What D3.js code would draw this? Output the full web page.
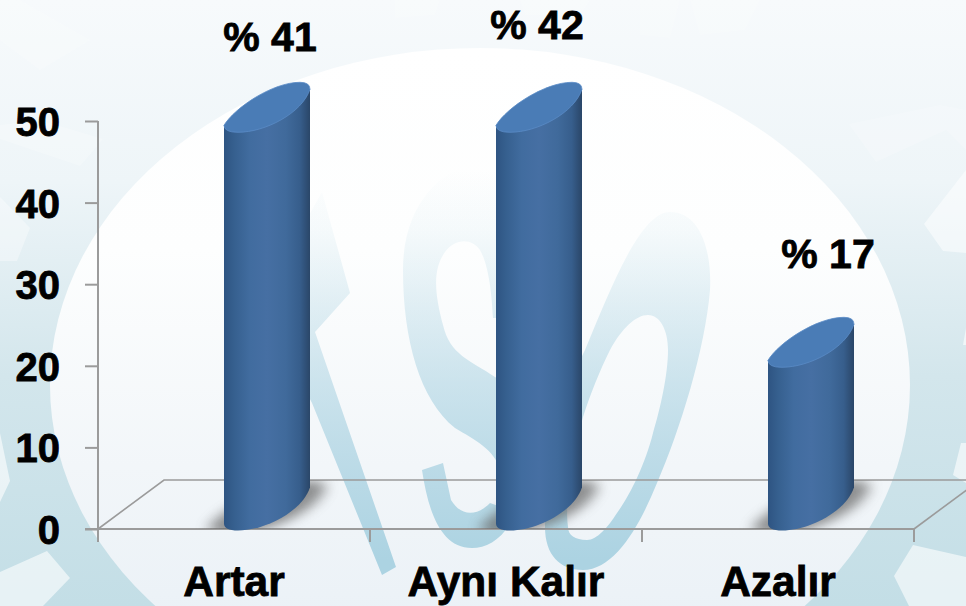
<!DOCTYPE html>
<html><head><meta charset="utf-8">
<style>html,body{margin:0;padding:0;background:#fff;overflow:hidden}svg{display:block}
text{font-family:"Liberation Sans",Arial,sans-serif;font-weight:700;fill:#000;stroke:#000;stroke-width:.8px}</style>
<script src="https://cdn.jsdelivr.net/npm/d3@7/dist/d3.min.js"></script></head><body>
<script>
const categories = ["Artar", "Aynı Kalır", "Azalır"];
const barValues = [48.8, 48.8, 20];
const percentLabels = ["% 41", "% 42", "% 17"];
const yTicks = [0, 10, 20, 30, 40, 50];

const W = 966, H = 606;
const svg = d3.select("body").append("svg").attr("width", W).attr("height", H);
const defs = svg.append("defs");
function grad(id, stops, x2, y2, units) {
  const g = defs.append("linearGradient").attr("id", id).attr("x1", 0).attr("y1", 0).attr("x2", x2).attr("y2", y2);
  if (units) g.attr("gradientUnits", "userSpaceOnUse");
  stops.forEach(s => g.append("stop").attr("offset", s[0]).attr("stop-color", s[1]).attr("stop-opacity", s[2] == null ? 1 : s[2]));
}
grad("bg", [[0, "#f7fafc"], [.3, "#eef5f8"], [.62, "#d3e6ec"], [1, "#c3dee6"]], 0, H, true);
grad("inner", [[0, "#ffffff"], [.3, "#fdfefe"], [.62, "#f2f6f9"], [1, "#e6eef5"]], 0, 1);
grad("logo", [[0, "#acd3e2", 0], [.15, "#acd3e2", .1], [.55, "#acd3e2", .58], [1, "#acd3e2", 1]], 0, 1);
defs.select("#logo").attr("gradientUnits", "userSpaceOnUse").attr("y1", 170).attr("y2", 560).attr("x2", 0);
grad("cyl", [[0, "#2e5482"], [.12, "#36608f"], [.3, "#416c9f"], [.5, "#466fa3"], [.72, "#406a9b"], [.88, "#375e8c"], [1, "#2a4668"]], 1, 0);
const f = defs.append("filter").attr("id", "blur").attr("x", "-30%").attr("y", "-30%").attr("width", "160%").attr("height", "160%");
f.append("feGaussianBlur").attr("stdDeviation", 5);

// background: gear and central disc
svg.append("rect").attr("width", W).attr("height", H).attr("fill", "url(#bg)");
const teeth = [
  ["0,139 80,166 103,139 40,120 0,125", .22], ["0,197 30,228 17,261 0,261", .35], ["0,433 10,481 0,502", .6],
  ["0,572 47,551 70,578 43,606 0,606", .6], ["966,170 924,224 943,251 966,253", .5], ["849,124 876,162 946,130 966,150 966,110 940,105", .2],
  ["966,328 963,345 966,345", .6], ["961,443 953,475 966,483 966,443", .6], ["913,545 894,576 909,606 966,606 966,557", .6],
  ["20,0 90,40 40,70 0,40 0,0", .18], ["690,0 760,0 745,30 700,35", .18], ["395,0 440,0 435,15 395,18", .18], ["520,0 590,0 580,15 525,15", .18], ["640,0 680,0 670,38 640,35", .18]
];
svg.append("g").selectAll("polygon").data(teeth).join("polygon")
  .attr("points", d => d[0]).attr("fill", "#fff").attr("opacity", d => d[1]);
svg.append("ellipse").attr("cx", 480).attr("cy", 385).attr("rx", 430).attr("ry", 337).attr("fill", "url(#inner)");

// KSO logo watermark
const logo = svg.append("g").attr("fill", "url(#logo)").attr("fill-rule", "evenodd");
logo.append("path").attr("d", "M322 192 L350 293 L315 332 L396 567 L382 575 L312 403 L295 370 L295 240 Z");
logo.append("path").attr("d", "M497 155 C440 165 403 205 403 270 C403 340 420 400 455 428 C475 440 495 450 500 470 L510 510 L490 503 C475 518 460 515 451 500 L443 463 L422 470 C428 510 440 548 472 548 C490 548 510 535 520 500 C525 470 520 420 500 380 L495 377 C470 360 450 355 443 325 C435 295 432 270 445 252 C455 238 472 238 480 250 C490 268 492 300 493 318 L510 318 L510 155 Z");
logo.append("path").attr("d", "M670 212 C700 212 712 250 710 290 C705 350 680 430 657 483 C640 525 615 570 583 570 C560 570 545 555 545 527 C545 450 570 380 585 350 C610 290 640 212 670 212 Z M648 315 C660 315 668 330 668 350 C668 375 660 410 653 433 C645 465 630 495 617 513 C608 527 597 540 587 540 C575 540 568 535 568 527 C566 510 568 500 568 487 C572 460 577 440 583 417 C590 395 600 370 610 350 C622 328 636 315 648 315 Z");

// scales and axes
const yScale = d3.scaleLinear().domain([0, 50]).range([529, 121]);
const xScale = d3.scaleBand().domain(categories).range([98, 914]);
const depthX = 66, depthY = 49, barW = 86;

const stroke = "#9b9b9b";
const floor = svg.append("g").attr("fill", "none").attr("stroke", stroke).attr("stroke-width", 1.6);
floor.append("path").attr("d", `M98 529 L${98 + depthX} ${529 - depthY} L${W} ${529 - depthY}`);
floor.append("path").attr("d", `M914 529 L${914 + depthX} ${529 - depthY}`);

const yAxis = svg.append("g").attr("transform", "translate(98,0)")
  .call(d3.axisLeft(yScale).tickValues(yTicks).tickSize(13).tickSizeOuter(0).tickPadding(25));
const xAxis = svg.append("g").attr("transform", "translate(0,529)")
  .call(d3.axisBottom(xScale).tickSize(0).tickPadding(37));
xAxis.selectAll(".tick").append("line").attr("class", "sep")
  .attr("x1", -xScale.step() / 2).attr("x2", -xScale.step() / 2).attr("y2", 13);
xAxis.append("line").attr("x1", 914).attr("x2", 914).attr("y2", 13).attr("stroke", stroke).attr("stroke-width", 2);
xAxis.append("line").attr("x1", 85).attr("x2", 914).attr("stroke", stroke).attr("stroke-width", 2);
svg.selectAll(".domain").attr("stroke", stroke).attr("stroke-width", 2);
svg.selectAll(".tick line").attr("stroke", stroke).attr("stroke-width", 2);
yAxis.select(".domain").attr("d", "M0 121 V529");
yAxis.selectAll("text").attr("font-size", 40).attr("fill", "#000").attr("dy", "0.36em");
xAxis.selectAll("text").attr("font-size", 42.5).attr("fill", "#000").attr("dy", "0.71em");
xAxis.select(".domain").remove();

// cylinders
const lowerEdge = (cx, cy) => `C${cx + 35} ${cy + 7} ${cx - 2} ${cy + 26} ${cx - 29} ${cy + 26} Q${cx - 43} ${cy + 26} ${cx - 43} ${cy + 19}`;
const lens = (cx, cy) => `M${cx - 43} ${cy + 19} C${cx - 32} ${cy + 1} ${cx + 6} ${cy - 24} ${cx + 33} ${cy - 24} Q${cx + 43} ${cy - 24} ${cx + 43} ${cy - 17} ${lowerEdge(cx, cy)} Z`;
const cx = d => xScale(d) + xScale.bandwidth() / 2 + depthX / 2;
const baseCy = yScale(0) - depthY / 2;

defs.append("clipPath").attr("id", "floorClip").append("path").attr("d", `M98 529 L${98 + depthX} ${529 - depthY} H${W} V529 Z`);
const shadowG = svg.append("g").attr("clip-path", "url(#floorClip)");
shadowG.selectAll("path").data(categories).join("path")
  .attr("d", d => lens(cx(d), baseCy))
  .attr("transform", d => `translate(${cx(d)},${baseCy + 2}) scale(1.36,1.08) translate(${-cx(d)},${-baseCy})`)
  .attr("fill", "#666").attr("opacity", .72).attr("filter", "url(#blur)");

const bars = svg.append("g").selectAll("g").data(categories).join("g");
bars.append("path").attr("fill", "url(#cyl)").attr("d", (d, i) => {
  const c = cx(d), t = yScale(barValues[i]) - depthY / 2;
  return `M${c - 43} ${t + 19} L${c + 43} ${t - 17} V${baseCy - 17} ${lowerEdge(c, baseCy)} Z`;
});
bars.append("path").attr("fill", "#4a7cb6").attr("stroke", "#5a8cc6").attr("stroke-width", .8)
  .attr("d", (d, i) => lens(cx(d), yScale(barValues[i]) - depthY / 2));

// data labels
const labelShift = [[3, -80], [-2, -92], [17, -98]];
svg.append("g").selectAll("text").data(categories).join("text")
  .attr("text-anchor", "middle").attr("font-size", 41)
  .attr("x", (d, i) => cx(d) + labelShift[i][0])
  .attr("y", (d, i) => yScale(barValues[i]) + labelShift[i][1])
  .text((d, i) => percentLabels[i]);
</script></body></html>
